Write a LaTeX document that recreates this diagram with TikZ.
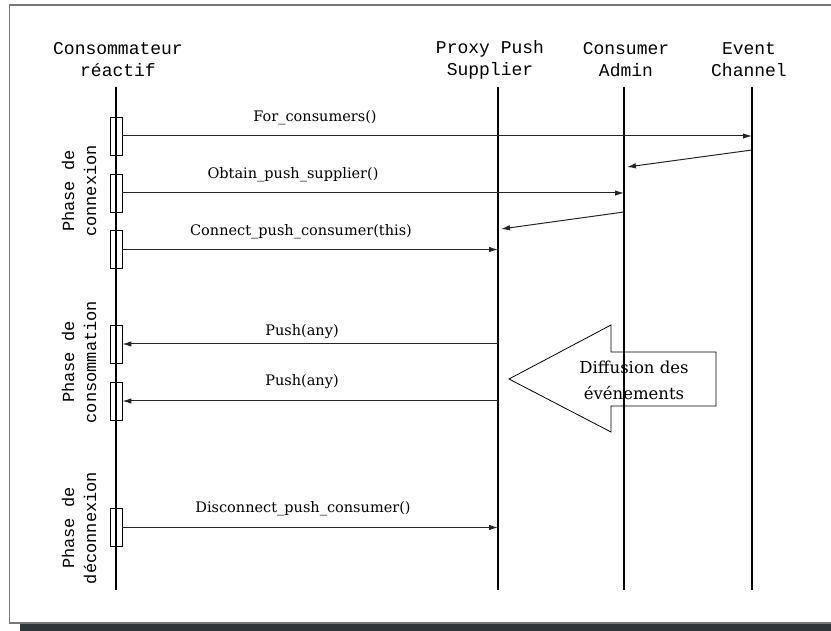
\documentclass[tikz,border=0pt]{standalone}
\usepackage{fontspec}
\newfontfamily\headfont{Liberation Mono}
\newfontfamily\labelfont{DejaVu Serif}
\usetikzlibrary{arrows.meta}

\definecolor{framegray}{RGB}{120,120,120}
\definecolor{shadowgray}{RGB}{45,55,55}

\begin{document}
\begin{tikzpicture}[x=1pt,y=1pt,yscale=-1,
  lifeline/.style={line width=2.6pt, black},
  activation/.style={draw, line width=0.9pt, minimum width=12pt, minimum height=38pt, inner sep=0pt},
  msg/.style={line width=1pt, draw=black!85, -{Latex[length=9pt,width=5.5pt]}},
  msglabel/.style={font=\labelfont\fontsize{14.5}{19}\selectfont, inner sep=0.75pt},
  head/.style={font=\headfont\fontsize{18}{22}\selectfont, align=center, inner sep=0pt},
  phase/.style={font=\headfont\fontsize{17}{22}\selectfont, align=center, rotate=90, inner sep=0pt}]
\useasboundingbox (0,0) rectangle (831,631);

%Frame and its shadow
\fill[shadowgray] (20,624) rectangle (840,640);
\draw[framegray, line width=1.5pt] (9.5,5) -- (836,5) -- (836,623) -- (9.5,623) -- cycle;

%Shape: broadcast arrow
\draw[line width=0.8pt] (509,379) -- (611,325) -- (611,352) -- (716,352) -- (716,406) -- (611,406) -- (611,432) -- cycle;
\node[font=\labelfont\fontsize{16.5}{26}\selectfont, align=center, inner sep=0pt] (diffusion) at (634,380) {Diffusion des\\événements};

% Objects
\node[head] (cons head) at (118,60) {Consommateur\\réactif};
\node[head] (pps head) at (490,60) {Proxy Push\\Supplier};
\node[head] (ca head) at (626,60) {Consumer\\Admin};
\node[head] (ec head) at (749,60) {Event\\Channel};

\coordinate (cons top) at (116,87);  \coordinate (cons bot) at (116,590);
\coordinate (pps top) at (498,87);   \coordinate (pps bot) at (498,590);
\coordinate (ca top) at (624,87);    \coordinate (ca bot) at (624,590);
\coordinate (ec top) at (752,87);    \coordinate (ec bot) at (752,590);

% Lifelines
\draw[lifeline] (cons top) -- (cons bot);
\draw[lifeline] (pps top) -- (pps bot);
\draw[lifeline] (ca top) -- (ca bot);
\draw[lifeline] (ec top) -- (ec bot);

% Activations
\node[activation] (act1) at (116,136) {};
\node[activation] (act2) at (116,193) {};
\node[activation] (act3) at (116,249.5) {};
\node[activation] (act4) at (116,344) {};
\node[activation] (act5) at (116,401) {};
\node[activation] (act6) at (116,527.5) {};

% Phases
\node[phase] (connexion) at (79,191) {Phase de\\connexion};
\node[phase] (consommation) at (79,362) {Phase de\\consommation};
\node[phase] (deconnexion) at (79,528) {Phase de\\déconnexion};

% Messages
\draw[msg] (act1.east) -- (act1 -| ec top);
\node[msglabel] (m1) at (315,118) {For\_consumers()};
\coordinate (r1 from) at (752,150); \coordinate (r1 to) at (627,167);
\draw[msg] (r1 from) -- (r1 to);

\draw[msg] (act2.east) -- (act2 -| ca top);
\node[msglabel] (m2) at (293,175) {Obtain\_push\_supplier()};
\coordinate (r2 from) at (624,212); \coordinate (r2 to) at (501,229);
\draw[msg] (r2 from) -- (r2 to);

\draw[msg] (act3.east) -- (act3 -| pps top);
\node[msglabel] (m3) at (301,232) {Connect\_push\_consumer(this)};

\draw[msg] (act4 -| pps top) -- (act4.east);
\node[msglabel] (m4) at (302,332) {Push(any)};

\draw[msg] (act5 -| pps top) -- (act5.east);
\node[msglabel] (m5) at (302,382) {Push(any)};

\draw[msg] (act6.east) -- (act6 -| pps top);
\node[msglabel] (m6) at (303,509) {Disconnect\_push\_consumer()};

\end{tikzpicture}
\end{document}
